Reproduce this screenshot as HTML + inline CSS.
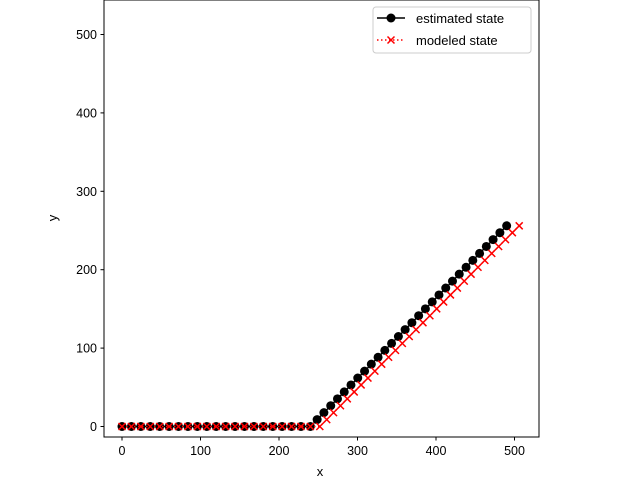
<!DOCTYPE html>
<html><head><meta charset="utf-8"><style>body{margin:0;background:#fff}svg{display:block;font-family:"Liberation Sans","DejaVu Sans",sans-serif}</style></head>
<body>
<svg id="chart" width="640" height="480" xmlns="http://www.w3.org/2000/svg">
<rect x="0" y="0" width="640" height="480" fill="#fff"/>
<g id="plot"></g>
<rect x="104" y="0" width="435" height="437" fill="none" stroke="#000" stroke-width="1"/>
<g id="axes"></g>
<text x="320" y="476" font-size="13" text-anchor="middle">x</text>
<text x="57" y="218" font-size="13" text-anchor="middle" transform="rotate(-90 57 218)">y</text>
<g>
<rect x="373" y="7" width="158" height="46" rx="3" fill="#fff" stroke="#ccc"/>
<g>
<line x1="377" y1="18" x2="405" y2="18" stroke="#000" stroke-width="1.5"/>
<circle cx="391" cy="18" r="4.5" fill="#000"/>
<text x="416" y="23" font-size="13">estimated state</text></g>
<g>
<line x1="377" y1="40" x2="405" y2="40" stroke="red" stroke-width="1.5" stroke-dasharray="1.5,2.5"/>
<path d="M387.5 36.5L394.5 43.5M394.5 36.5L387.5 43.5" stroke="red" stroke-width="1.5"/>
<text x="416" y="45" font-size="13">modeled state</text></g>
</g>
</svg>
<script>
const estX=[0,12,24,36,48,60,72,84,96,108,120,132,144,156,168,180,192,204,216,228,240,248.6,257.2,265.9,274.5,283.1,291.7,300.3,309.0,317.6,326.2,334.8,343.4,352.1,360.7,369.3,377.9,386.5,395.2,403.8,412.4,421.0,429.6,438.3,446.9,455.5,464.1,472.7,481.4,490.0];
const estY=[0,0,0,0,0,0,0,0,0,0,0,0,0,0,0,0,0,0,0,0,0,8.8,17.7,26.5,35.3,44.1,53.0,61.8,70.6,79.5,88.3,97.1,106.0,114.8,123.6,132.4,141.3,150.1,158.9,167.8,176.6,185.4,194.3,203.1,211.9,220.8,229.6,238.4,247.2,256.0];
const modX=[0,12,24,36,48,60,72,84,96,108,120,132,144,156,168,180,192,204,216,228,240,252,260.8,269.5,278.3,287.0,295.8,304.6,313.3,322.1,330.8,339.6,348.4,357.1,365.9,374.6,383.4,392.2,400.9,409.7,418.4,427.2,436.0,444.7,453.5,462.2,471.0,479.8,488.5,497.3,506.0];
const modY=[0,0,0,0,0,0,0,0,0,0,0,0,0,0,0,0,0,0,0,0,0,0,8.8,17.7,26.5,35.3,44.1,53.0,61.8,70.6,79.5,88.3,97.1,106.0,114.8,123.6,132.4,141.3,150.1,158.9,167.8,176.6,185.4,194.3,203.1,211.9,220.8,229.6,238.4,247.2,256.0];
const xTicks=[0,100,200,300,400,500];
const yTicks=[0,100,200,300,400,500];
const NS="http://www.w3.org/2000/svg";
const sx=v=>122+0.785*v, sy=v=>426.5-0.784*v;
function mk(t,a,p){const e=document.createElementNS(NS,t);for(const k in a)e.setAttribute(k,a[k]);p.appendChild(e);return e;}
const plot=document.getElementById('plot'), axes=document.getElementById('axes');
let d=estX.map((x,i)=>(i?'L':'M')+sx(x)+' '+sy(estY[i])).join('');
const l1=mk('path',{d:d,fill:'none',stroke:'#000','stroke-width':1.5},plot);


estX.forEach((x,i)=>{const c=mk('circle',{cx:sx(x),cy:sy(estY[i]),r:4.5,fill:'#000'},plot);

});
d=modX.map((x,i)=>(i?'L':'M')+sx(x)+' '+sy(modY[i])).join('');
const l2=mk('path',{d:d,fill:'none',stroke:'red','stroke-width':1.5,'stroke-dasharray':'1.5,2.5'},plot);


modX.forEach((x,i)=>{const X=sx(x),Y=sy(modY[i]);const p=mk('path',{d:`M${X-3.5} ${Y-3.5}L${X+3.5} ${Y+3.5}M${X+3.5} ${Y-3.5}L${X-3.5} ${Y+3.5}`,stroke:'red','stroke-width':1.5},plot);

});
xTicks.forEach(v=>{const X=sx(v);mk('line',{x1:X,y1:437,x2:X,y2:440.5,stroke:'#000'},axes);
const t=mk('text',{x:X,y:455,'font-size':12.5,'text-anchor':'middle'},axes);t.textContent=v;

});
yTicks.forEach(v=>{const Y=sy(v);mk('line',{x1:100.5,y1:Y,x2:104,y2:Y,stroke:'#000'},axes);
const t=mk('text',{x:97,y:Y+4.5,'font-size':12.5,'text-anchor':'end'},axes);t.textContent=v;

});
</script>
</body></html>
